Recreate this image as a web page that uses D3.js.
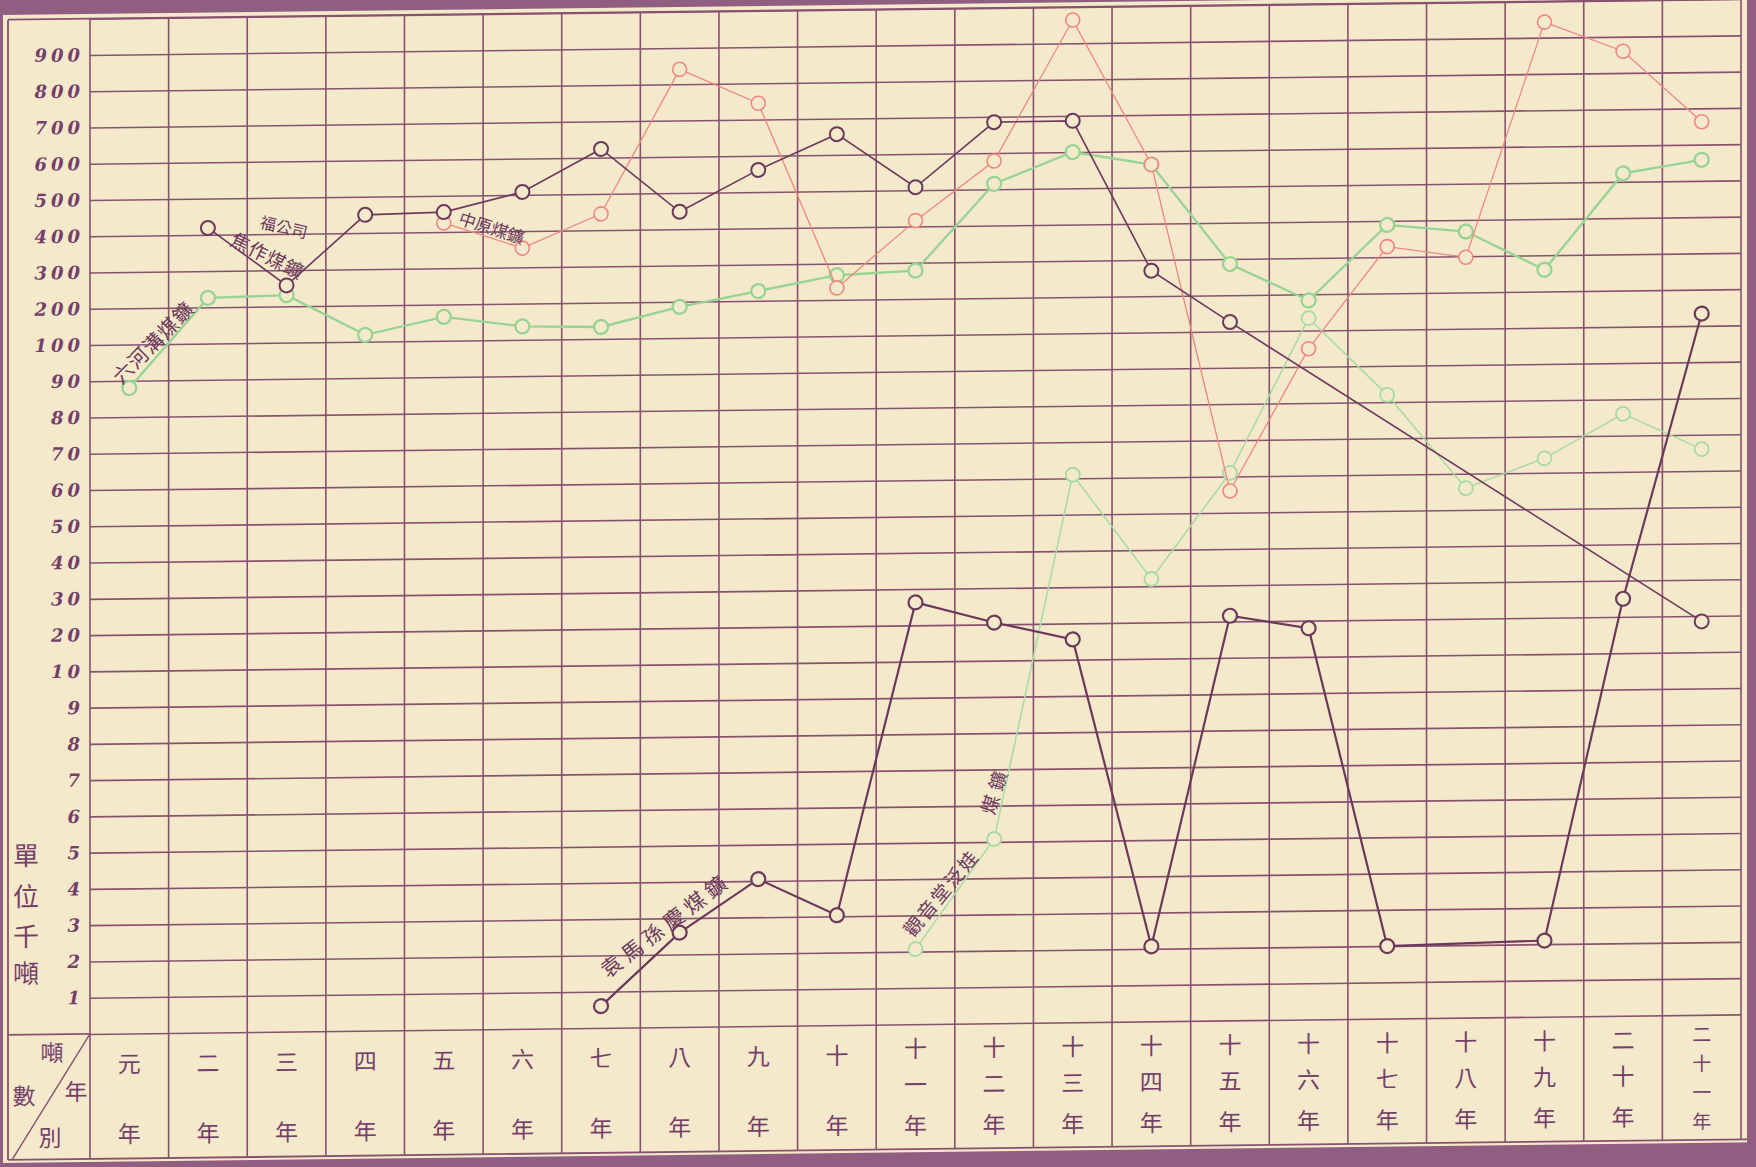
<!DOCTYPE html>
<html><head><meta charset="utf-8">
<script src="https://cdn.jsdelivr.net/npm/d3@7"></script>
<style>
html,body{margin:0;padding:0;background:#f5e9cc;overflow:hidden;}
svg{display:block;}
</style></head><body>
<script>
// ---------------- DATA ----------------
const years = ["元年","二年","三年","四年","五年","六年","七年","八年","九年","十年","十一年","十二年","十三年","十四年","十五年","十六年","十七年","十八年","十九年","二十年","二十一年"];
const tickValues = [1,2,3,4,5,6,7,8,9,10,20,30,40,50,60,70,80,90,100,200,300,400,500,600,700,800,900];
// 單位千噸 (unit: thousand tons)
const liuhegou   = [88,226,231,119,166,137,133,186,227,268,278,515,600,563,286,183,389,368,260,523,558];
const fugongsi   = [null,419,258,450,455,508,624,448,561,657,508,685,686,270,126,null,null,null,null,null,18.5];
const zhongyuan  = [null,null,null,null,425,353,445,841,745,233,416,578,964,563,56,95,329,297,943,860,663];
const lowerPurple= [null,null,null,null,null,null,0.6,2.6,4.05,3.03,26.3,20.5,15.6,2.07,21.6,17.9,2.0,null,2.1,25,134];
const lowerGreen = [null,null,null,null,null,null,null,null,null,null,2.07,5.08,61,32,61,134,82,56,64,76,66];
const unitLabel = ["單","位","千","噸"];

// ---------------- LAYOUT ----------------
const W=1756,H=1167;
const left=90, right=1741, y0=1033, rowH=36.26, tableBottom=1158, labelLeft=8;
const gridColor="#87526f", textColor="#74406a", frameColor="#8f5e80";
const bg="#f5e9cc";

const svg=d3.select("body").append("svg").attr("width",W).attr("height",H);
svg.append("rect").attr("width",W).attr("height",H).attr("fill",bg);
const g=svg.append("g").attr("transform","translate(170,0) skewY(-0.68) translate(-170,0)");

const x=d3.scaleBand().domain(years).range([left,right]);
const xc=d=>x(d)+x.bandwidth()/2;
const y=d3.scaleLinear().domain([0,10,100,1000]).range([y0,y0-10*rowH,y0-19*rowH,y0-28*rowH]);
const topY=y(1000);

// frame bands
g.append("rect").attr("x",-20).attr("y",-40).attr("width",W+40).attr("height",40+13).attr("fill",frameColor);
g.append("rect").attr("x",1747).attr("y",-40).attr("width",40).attr("height",H+80).attr("fill",frameColor);
g.append("rect").attr("x",-20).attr("y",1161).attr("width",W+40).attr("height",60).attr("fill",frameColor);
g.append("rect").attr("x",-20).attr("y",-40).attr("width",23).attr("height",H+80).attr("fill",frameColor);

// horizontal grid via axis
const gridVals=[0].concat(tickValues,[1000]);
g.append("g").attr("transform",`translate(${left},0)`)
 .call(d3.axisLeft(y).tickValues(gridVals).tickSize(-(right-left)).tickFormat(""))
 .call(s=>s.select(".domain").remove())
 .call(s=>s.selectAll("line").attr("stroke",gridColor).attr("stroke-width",1.6));

// vertical grid lines (band edges)
const edges=years.map(d=>x(d)).concat([x(years[years.length-1])+x.bandwidth()]);
g.append("g").selectAll("line").data(edges).join("line")
 .attr("x1",d=>d).attr("x2",d=>d).attr("y1",topY).attr("y2",tableBottom)
 .attr("stroke",gridColor).attr("stroke-width",1.6);

// label column and table lines
const tl=g.append("g").attr("stroke",gridColor).attr("stroke-width",1.8);
tl.append("line").attr("x1",labelLeft).attr("x2",labelLeft).attr("y1",topY).attr("y2",tableBottom);
tl.append("line").attr("x1",labelLeft).attr("x2",left).attr("y1",y(0)).attr("y2",y(0));
tl.append("line").attr("x1",labelLeft).attr("x2",right+6).attr("y1",tableBottom).attr("y2",tableBottom);
tl.append("line").attr("x1",left).attr("x2",labelLeft+4).attr("y1",y(0)).attr("y2",tableBottom).attr("stroke-width",1.4);
tl.append("line").attr("x1",labelLeft).attr("x2",right).attr("y1",topY).attr("y2",topY);

// y tick labels via axis
g.append("g").attr("transform",`translate(${left-6},0)`)
 .call(d3.axisLeft(y).tickValues(tickValues).tickSize(0).tickPadding(0).tickFormat(d=>String(d)))
 .call(s=>s.select(".domain").remove())
 .call(s=>s.selectAll("text")
   .attr("fill",textColor).attr("font-family","DejaVu Serif").attr("font-style","italic")
   .attr("font-weight","bold").attr("font-size",18).attr("letter-spacing",4));

// unit label
const unitY=[852,893,933,970];
g.append("g").selectAll("text").data(unitLabel).join("text")
 .attr("x",26).attr("y",(d,i)=>unitY[i]).attr("text-anchor","middle").attr("dominant-baseline","central")
 .attr("font-family","Noto Sans CJK TC").attr("font-size",26).attr("fill",textColor).text(d=>d);

// header cell
const hdr=[["噸",52,1050],["數",24,1093],["年",76,1089],["別",50,1135]];
g.append("g").selectAll("text").data(hdr).join("text")
 .attr("x",d=>d[1]).attr("y",d=>d[2]).attr("text-anchor","middle").attr("dominant-baseline","central")
 .attr("font-family","Noto Sans CJK TC").attr("font-size",23).attr("fill",textColor).text(d=>d[0]);

// year labels
const yearRows={2:[1062,1132],3:[1056,1092,1133],4:[1051,1080,1109,1138]};
const yl=g.append("g");
years.forEach(yr=>{
  const chars=yr.split(""); const ys=yearRows[chars.length];
  chars.forEach((c,i)=>{
    yl.append("text").attr("x",xc(yr)).attr("y",ys[i]).attr("text-anchor","middle").attr("dominant-baseline","central")
      .attr("font-family","Noto Sans CJK TC").attr("font-size",chars.length===4?19:23).attr("fill",textColor).text(c);
  });
});

// ---------------- SERIES ----------------
const seriesDefs=[
  {vals:liuhegou,  color:"#97d494", w:2.3, cw:2.3},
  {vals:lowerGreen,color:"#a6dba2", w:1.5, cw:1.8},
  {vals:zhongyuan, color:"#ee887d", w:1.3, cw:1.6},
  {vals:fugongsi,  color:"#6c395b", w:1.6, cw:2.0},
  {vals:lowerPurple,color:"#6c395b",w:2.2, cw:2.2},
];
const line=d3.line().x(d=>xc(d.year)).y(d=>y(d.v));
seriesDefs.forEach(s=>{
  const pts=years.map((yr,i)=>({year:yr,v:s.vals[i]})).filter(d=>d.v!=null);
  const sg=g.append("g");
  sg.append("path").datum(pts).attr("d",line).attr("fill","none").attr("stroke",s.color).attr("stroke-width",s.w);
  sg.selectAll("circle").data(pts).join("circle")
    .attr("cx",d=>xc(d.year)).attr("cy",d=>y(d.v)).attr("r",7)
    .attr("fill",bg).attr("stroke",s.color).attr("stroke-width",s.cw);
});

// ---------------- SERIES LABELS ----------------
function label(vals,i,j,t,off,text,size,angleOverride,spacing){
  const p1=[xc(years[i]),y(vals[i])], p2=[xc(years[j]),y(vals[j])];
  const dx=p2[0]-p1[0], dy=p2[1]-p1[1], len=Math.hypot(dx,dy);
  const nx=dy/len, ny=-dx/len;
  const px=p1[0]+t*dx+off*nx, py=p1[1]+t*dy+off*ny;
  const ang=angleOverride!=null?angleOverride:Math.atan2(dy,dx)*180/Math.PI;
  g.append("text").attr("transform",`translate(${px},${py}) rotate(${ang})`)
   .attr("text-anchor","middle").attr("dominant-baseline","central")
   .attr("font-family","Noto Sans CJK TC").attr("font-size",size).attr("fill","#6c395b")
   .attr("letter-spacing",spacing||0).text(text);
}
label(liuhegou,0,1,0.42,13,"六河溝煤鑛",20,-45,1);
label(fugongsi,1,2,0.66,14,"焦作煤鑛",19,27,1);
label(fugongsi,1,2,0.62,46,"福公司",16,14);
label(zhongyuan,4,5,0.57,11,"中原煤鑛",17,null);
label(lowerPurple,6,8,0.5,24,"袁馬孫慶煤鑛",21,-37,5);
label(lowerGreen,10,11,0.45,13,"觀音堂泛娃",19,-50,2);
label(lowerGreen,11,12,0.13,11,"煤鑛",19,-72,6);
</script>
</body></html>
